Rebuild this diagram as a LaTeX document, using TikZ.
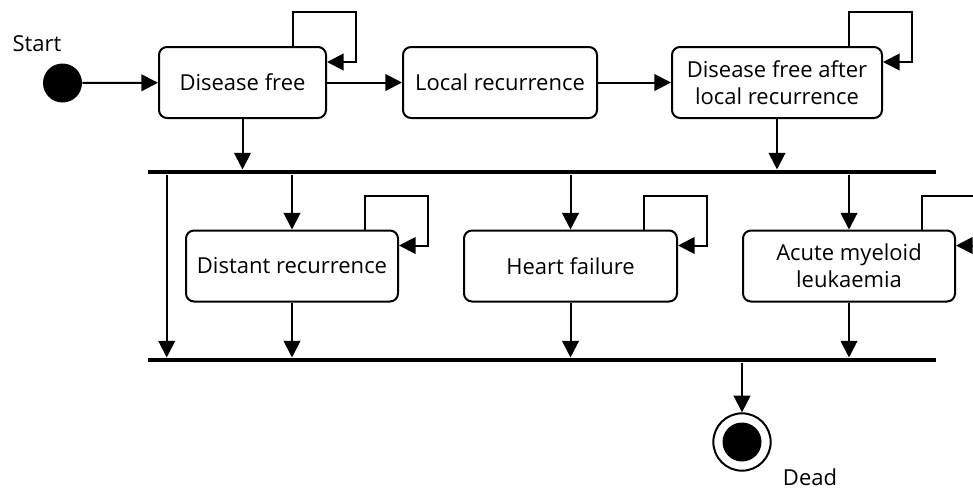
\documentclass[tikz,border=0pt]{standalone}
\usepackage{fontspec}
\setmainfont{Open Sans}
\usetikzlibrary{arrows.meta}
\tikzset{
  x=0.75pt, y=-0.75pt,
  state/.style={draw, line width=1.5pt, rounded corners=6pt, align=center,
    minimum height=53.25pt, inner sep=2pt, font=\fontsize{16.5}{20.5}\selectfont},
  conn/.style={line width=1.5pt, -{Triangle[length=12.5pt,width=12.5pt]}},
  bar/.style={fill=black, inner sep=0pt, minimum height=3.4pt, minimum width=591pt},
  lbl/.style={font=\fontsize{16.5}{20}\selectfont, inner sep=0pt},
}
\newcommand\selfloop[1]{\draw[conn] ([xshift=-25.5pt]#1.north east) -- ++(0,25.5pt) -| ([xshift=21.75pt,yshift=-12pt]#1.north east) -- ([yshift=-12pt]#1.north east);}
\begin{document}
\begin{tikzpicture}
\useasboundingbox (0,0) rectangle (973,490);
\clip (0,0) rectangle (973,490);
% top row
\node[state, minimum width=125.25pt] (df) at (242.5,82.5) {Disease free};
\node[state, minimum width=145.5pt] (lr) at (500,82.5) {Local recurrence};
\node[state, minimum width=157.5pt] (dfalr) at (777,82.5) {Disease free after\\local recurrence};
% bottom row
\node[state, minimum width=159pt] (dr) at (292,266) {Distant recurrence};
\node[state, minimum width=159.75pt] (hf) at (570.5,266) {Heart failure};
\node[state, minimum width=159pt] (aml) at (849,266) {Acute myeloid\\leukaemia};
% bars
\node[bar] (bar1) at (542,172) {};
\node[bar] (bar2) at (542,360) {};
% start and end
\node[circle, fill=black, inner sep=0pt, minimum size=29.25pt] (start) at (62.5,83) {};
\node[lbl] (startlbl) at (37,44) {Start};
\node[circle, draw, line width=1.5pt, fill=white, inner sep=0pt, minimum size=43pt] (dead) at (742,442) {};
\node[circle, fill=black, inner sep=0pt, minimum size=29.25pt] (deadin) at (dead.center) {};
\node[lbl] (deadlbl) at (810,477) {Dead};
% connectors
\draw[conn] (start) -- (df);
\draw[conn] (df) -- (lr);
\draw[conn] (lr) -- (dfalr);
\selfloop{df}
\selfloop{dfalr}
\selfloop{dr}
\selfloop{hf}
\selfloop{aml}
\draw[conn] (df.south) -- (df.south |- bar1.north);
\draw[conn] (dfalr.south) -- (dfalr.south |- bar1.north);
\draw[conn] (bar1.south -| dr.north) -- (dr.north);
\draw[conn] (bar1.south -| hf.north) -- (hf.north);
\draw[conn] (bar1.south -| aml.north) -- (aml.north);
\draw[conn] ([xshift=14.25pt]bar1.south west) -- ([xshift=14.25pt]bar2.north west);
\draw[conn] (dr.south) -- (dr.south |- bar2.north);
\draw[conn] (hf.south) -- (hf.south |- bar2.north);
\draw[conn] (aml.south) -- (aml.south |- bar2.north);
\draw[conn] (bar2.south -| dead.north) -- (dead.north);
\end{tikzpicture}
\end{document}
